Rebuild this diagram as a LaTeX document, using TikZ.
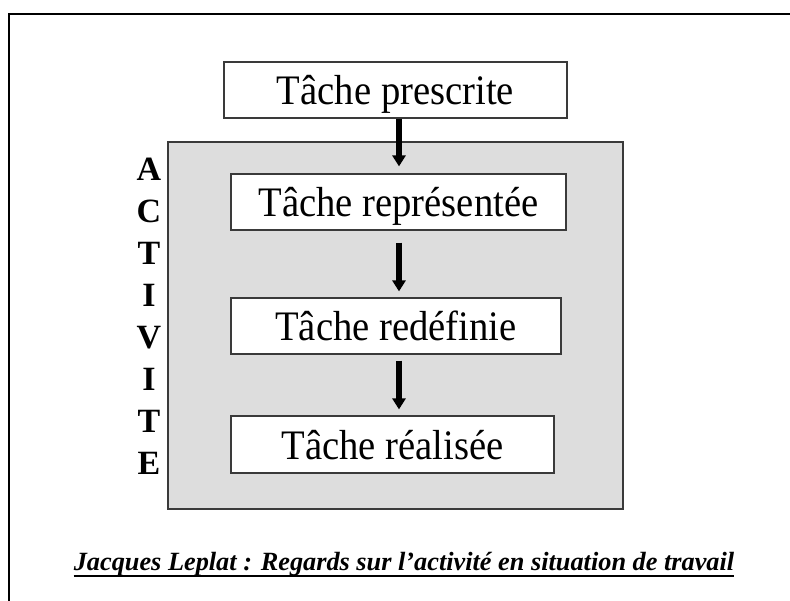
\documentclass[tikz,border=0pt]{standalone}
\usepackage{fontspec}
\setmainfont{Liberation Serif}
\newfontfamily\narrowserif[FakeStretch=0.92]{Liberation Serif}
\usetikzlibrary{arrows.meta}
\definecolor{panelgray}{HTML}{DDDDDD}
\definecolor{edgegray}{HTML}{3A3A3A}
\tikzset{arrow/.style={draw,-{Triangle[width=13pt,length=11pt]},line width=5.5pt,#1}}
\tikzset{arrow/.default={black}}
\tikzset{task/.style={draw=edgegray,fill=white,line width=1.2pt,inner sep=0pt,text height=30pt,text depth=0pt,font={\narrowserif\fontsize{42pt}{48}\selectfont}}}
\tikzset{letter/.style={anchor=base,font={\fontsize{34pt}{42}\selectfont\bfseries}}}

\begin{document}
\begin{tikzpicture}[x=1pt,y=-1pt]
    \useasboundingbox (0,0) rectangle (790,601);
    \draw[line width=2.7pt] (9,601) -- (9,14) -- (790,14);
    \node[draw=edgegray,fill=panelgray,line width=1.2pt,inner sep=0pt,minimum width=455pt,minimum height=367pt] (activ) at (395.5,325.5) {};
    \node[task,minimum width=343pt,minimum height=56pt] (presc) at (395.5,90) {Tâche prescrite};
    \node[task,minimum width=335pt,minimum height=56pt] (repr) at (398.5,202) {Tâche représentée};
    \node[task,minimum width=330pt,minimum height=56pt] (redef) at (396,326) {Tâche redéfinie};
    \node[task,minimum width=323pt,minimum height=57pt] (real) at (392.5,444.5) {Tâche réalisée};
    \coordinate (axis) at (399,0);
    \path[arrow,shorten >=7pt] (presc.south -| axis) -- (repr.north -| axis);
    \path[arrow,shorten <=12pt,shorten >=6pt] (repr.south -| axis) -- (redef.north -| axis);
    \path[arrow,shorten <=6pt,shorten >=6pt] (redef.south -| axis) -- (real.north -| axis);
    \foreach \i\j in {0/A, 1/C, 2/T, 3/I, 4/V, 5/I, 6/T, 7/E}{
        \node[letter] (l\i) at (149, 181+42*\i) {\j};
    }
    \node[anchor=base,inner sep=0pt,font={\fontsize{26.3pt}{30}\selectfont\bfseries\itshape}] (cap) at (404,570.5) {Jacques Leplat : Regards sur l’activité en situation de travail};
    \draw[line width=2.5pt] ([yshift=-5.5pt]cap.base west) -- ([yshift=-5.5pt]cap.base east);
\end{tikzpicture}
\end{document}
